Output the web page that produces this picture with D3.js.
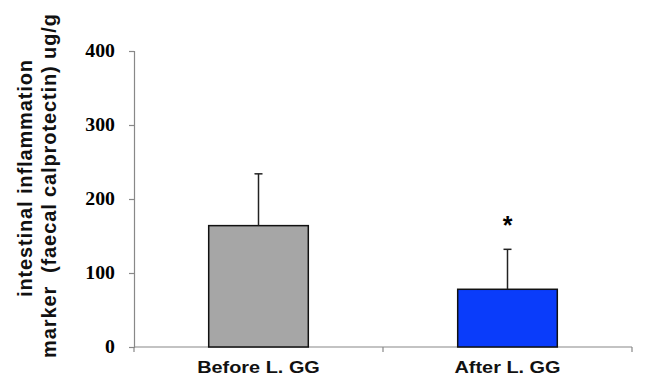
<!DOCTYPE html>
<html><head><meta charset="utf-8">
<script src="https://cdn.jsdelivr.net/npm/d3@7"></script>
<style>body{margin:0;background:#fff}svg{display:block}</style>
</head><body>
<script>
const categories = ["Before L. GG", "After L. GG"];
const values = [164, 78];
const errors = [70, 54];
const barColors = ["#a6a6a6", "#0a3cfa"];
const yTicks = [0, 100, 200, 300, 400];
const significance = ["", "*"];

(function () {
const W = 650, H = 379;
const svg = d3.select("body").append("svg").attr("width", W).attr("height", H);
const mLeft = 134, mRight = 632, mTop = 51, mBottom = 347;
const sans = "Liberation Sans, Arial, sans-serif";
const stretch = 1.17;

const x = d3.scaleBand().domain(categories).range([mLeft, mRight]).paddingInner(0.6).paddingOuter(0.3);
const xb = d3.scaleBand().domain(categories).range([mLeft, mRight]);
const y = d3.scaleLinear().domain([0, 400]).range([mBottom, mTop]);

function widen(sel, k) {
  sel.each(function () {
    const w = this.getComputedTextLength();
    d3.select(this).attr("textLength", w * k).attr("lengthAdjust", "spacingAndGlyphs");
  });
}

// y axis
const ya = svg.append("g").attr("transform", `translate(${mLeft},0)`)
  .call(d3.axisLeft(y).tickValues(yTicks).tickSize(5).tickPadding(14));
ya.select(".domain").attr("stroke", "#888").attr("stroke-width", 1.2);
ya.selectAll(".tick line").attr("stroke", "#888").attr("stroke-width", 1.2);
ya.selectAll("text").attr("font-family", "Liberation Serif, Times New Roman, serif")
  .attr("font-weight", "bold").attr("font-size", 18).attr("fill", "#000");
widen(ya.selectAll("text"), 1.1);

// x axis line with boundary ticks
svg.append("line").attr("x1", mLeft).attr("x2", mRight).attr("y1", y(0)).attr("y2", y(0))
  .attr("stroke", "#888").attr("stroke-width", 1.2);
const bounds = [mLeft, xb(categories[1]), mRight];
svg.selectAll(".xt").data(bounds).enter().append("line")
  .attr("x1", d => d).attr("x2", d => d).attr("y1", y(0)).attr("y2", y(0) + 5)
  .attr("stroke", "#888").attr("stroke-width", 1.2);

// bars
svg.selectAll(".bar").data(categories).enter().append("rect")
  .attr("x", d => x(d)).attr("width", x.bandwidth())
  .attr("y", (d, i) => y(values[i])).attr("height", (d, i) => y(0) - y(values[i]))
  .attr("fill", (d, i) => barColors[i]).attr("stroke", "#111").attr("stroke-width", 1.5);

// error bars
categories.forEach((c, i) => {
  const cx = x(c) + x.bandwidth() / 2;
  svg.append("line").attr("x1", cx).attr("x2", cx)
    .attr("y1", y(values[i])).attr("y2", y(values[i] + errors[i]))
    .attr("stroke", "#222").attr("stroke-width", 1.5);
  svg.append("line").attr("x1", cx - 4).attr("x2", cx + 4)
    .attr("y1", y(values[i] + errors[i])).attr("y2", y(values[i] + errors[i]))
    .attr("stroke", "#222").attr("stroke-width", 1.5);
  if (significance[i]) {
    svg.append("text").attr("x", cx).attr("y", y(values[i] + errors[i]) - 15)
      .attr("text-anchor", "middle").attr("font-family", sans)
      .attr("font-weight", "bold").attr("font-size", 25).text(significance[i]);
  }
});

// x labels
const xl = svg.selectAll(".xl").data(categories).enter().append("text")
  .attr("x", d => xb(d) + xb.bandwidth() / 2).attr("y", 373)
  .attr("text-anchor", "middle").attr("font-family", sans)
  .attr("font-weight", "bold").attr("font-size", 17).attr("fill", "#111").text(d => d);
widen(xl, stretch);

// y title
svg.append("text").attr("transform", "translate(32,178.5) rotate(-90)")
  .attr("font-family", sans).attr("font-weight", "bold").attr("fill", "#111")
  .attr("font-size", 20).attr("text-anchor", "middle").text("intestinal inflammation")
  .attr("textLength", 237).attr("lengthAdjust", "spacing");
svg.append("text").attr("transform", "translate(56,186) rotate(-90)")
  .attr("font-family", sans).attr("font-weight", "bold").attr("fill", "#111")
  .attr("font-size", 20).attr("text-anchor", "middle").attr("xml:space", "preserve")
  .text("marker  (faecal calprotectin) ug/g")
  .attr("textLength", 344).attr("lengthAdjust", "spacing");
})();
</script>
</body></html>
